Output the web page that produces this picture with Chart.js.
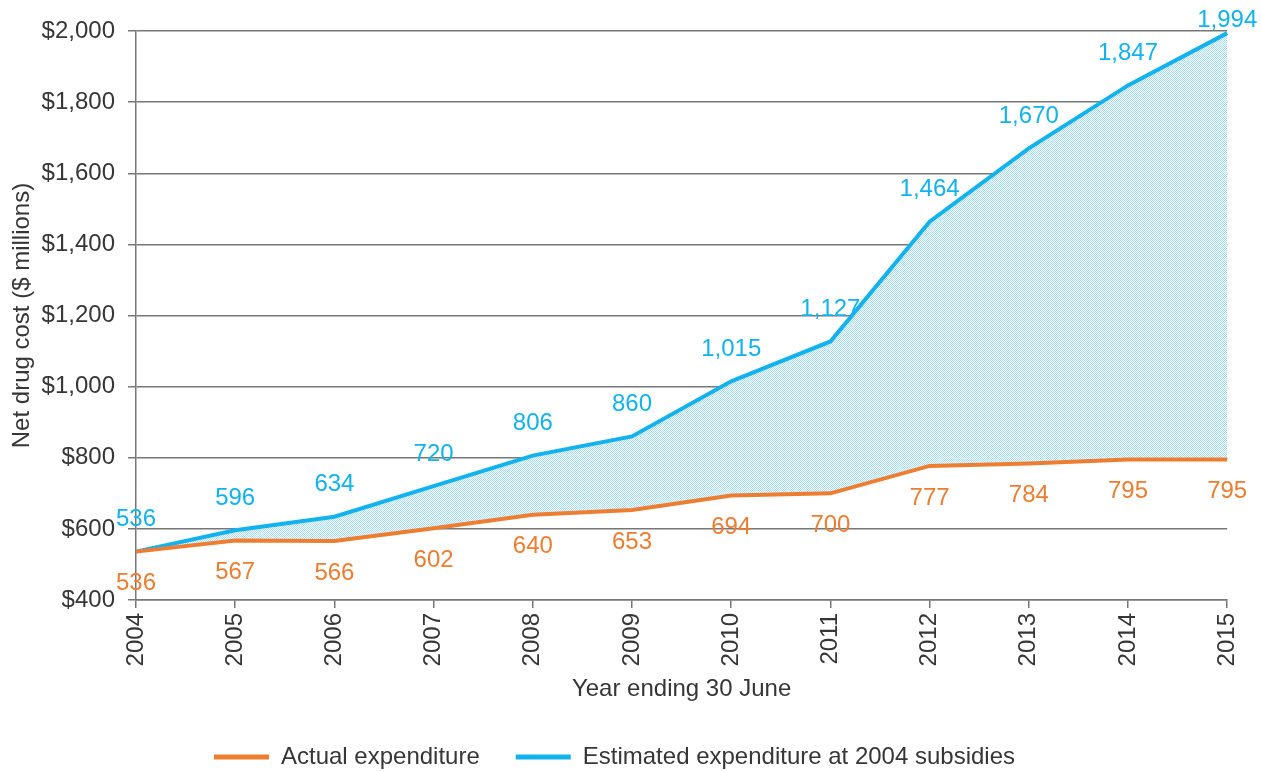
<!DOCTYPE html>
<html>
<head>
<meta charset="utf-8">
<script src="https://cdn.jsdelivr.net/npm/chart.js@4/dist/chart.umd.min.js"></script>
<style>
  html, body { margin: 0; padding: 0; background: #ffffff; }
  #wrap { width: 1261px; height: 771px; position: relative; }
</style>
</head>
<body>
<div id="wrap"><canvas id="c" width="1261" height="771"></canvas></div>
<script>
const years = ['2004','2005','2006','2007','2008','2009','2010','2011','2012','2013','2014','2015'];
const actualExpenditure = [536, 567, 566, 602, 640, 653, 694, 700, 777, 784, 795, 795];
const estimatedExpenditure = [536, 596, 634, 720, 806, 860, 1015, 1127, 1464, 1670, 1847, 1994];
const seriesNames = ['Actual expenditure', 'Estimated expenditure at 2004 subsidies'];
const yTickValues = [400, 600, 800, 1000, 1200, 1400, 1600, 1800, 2000];

const ORANGE = '#ED7D31';
const BLUE = '#12B2EE';
const TEXT = '#363636';
const GRID = '#777777';
const FONT = '"Liberation Sans", Arial, sans-serif';

Chart.defaults.font.family = FONT;
Chart.defaults.color = TEXT;

const canvas = document.getElementById('c');
const ctx = canvas.getContext('2d');

// dotted fill pattern
const pc = document.createElement('canvas');
pc.width = 2; pc.height = 2;
const pctx = pc.getContext('2d');
pctx.fillStyle = '#ffffff';
pctx.fillRect(0, 0, 2, 2);
pctx.fillStyle = '#a3ddf7';
pctx.fillRect(0, 0, 1, 1);
pctx.fillRect(1, 1, 1, 1);
const fillPattern = ctx.createPattern(pc, 'repeat');

const labelColors = [ORANGE, BLUE];
const valueLabels = {
  id: 'valueLabels',
  afterDatasetsDraw(chart) {
    const c = chart.ctx;
    c.save();
    c.font = '24px ' + FONT;
    c.textAlign = 'center';
    c.textBaseline = 'middle';
    chart.data.datasets.forEach((ds, i) => {
      const meta = chart.getDatasetMeta(i);
      meta.data.forEach((pt, j) => {
        const v = ds.data[j];
        let y = pt.y + (i === 1 ? -32 : 32);
        if (y < 20) y = 20;
        c.fillStyle = labelColors[i];
        c.fillText(v.toLocaleString('en-US'), pt.x, y);
      });
    });
    c.restore();
  }
};

new Chart(ctx, {
  type: 'line',
  data: {
    labels: years,
    datasets: [
      {
        label: seriesNames[0],
        data: actualExpenditure,
        borderColor: ORANGE,
        backgroundColor: ORANGE,
        borderWidth: 4,
        pointRadius: 0,
        tension: 0,
        fill: false
      },
      {
        label: seriesNames[1],
        data: estimatedExpenditure,
        borderColor: BLUE,
        backgroundColor: fillPattern,
        borderWidth: 4,
        pointRadius: 0,
        tension: 0,
        fill: '-1'
      }
    ]
  },
  options: {
    responsive: false,
    animation: false,
    layout: { padding: { top: 31, right: 32, bottom: -8, left: 0 } },
    plugins: {
      tooltip: { enabled: false },
      legend: {
        position: 'bottom',
        labels: {
          font: { size: 24 },
          color: TEXT,
          boxWidth: 55,
          boxHeight: 5,
          padding: 36,
          generateLabels(chart) {
            return chart.data.datasets.map((ds, i) => ({
              text: ds.label,
              fillStyle: ds.borderColor,
              strokeStyle: ds.borderColor,
              lineWidth: 0,
              hidden: false,
              datasetIndex: i,
              fontColor: TEXT
            }));
          }
        }
      }
    },
    scales: {
      x: {
        offset: false,
        grid: { drawOnChartArea: false, drawTicks: true, tickLength: 8, color: GRID, lineWidth: 1.5 },
        border: { color: GRID, width: 1.5 },
        ticks: { minRotation: 90, maxRotation: 90, autoSkip: false, padding: 5, font: { size: 24 }, color: TEXT },
        title: { display: true, text: 'Year ending 30 June', font: { size: 24 }, color: TEXT, padding: { top: 0, bottom: 5 } },
        afterFit(scale) { scale.height = 109; }
      },
      y: {
        min: 400,
        max: 2000,
        afterBuildTicks(scale) { scale.ticks = yTickValues.map(v => ({ value: v })); },
        grid: { color: GRID, lineWidth: 1.5, tickLength: 8, drawTicks: true },
        border: { color: GRID, width: 1.5 },
        ticks: {
          padding: 13,
          font: { size: 24 },
          color: TEXT,
          callback: (v) => '$' + Number(v).toLocaleString('en-US')
        },
        title: { display: true, text: 'Net drug cost ($ millions)', font: { size: 24 }, color: TEXT, padding: { top: 8, bottom: 0 } },
        afterFit(scale) { scale.width = 136; }
      }
    }
  },
  plugins: [valueLabels]
});
</script>
</body>
</html>
